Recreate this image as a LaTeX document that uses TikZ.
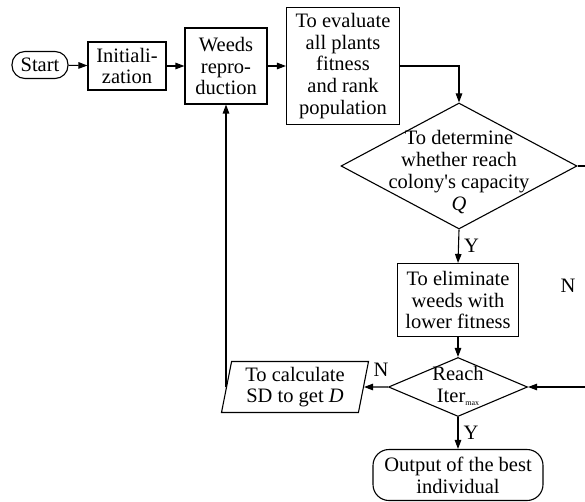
\documentclass[tikz,border=0pt]{standalone}
\usepackage{fontspec}
\setmainfont{Liberation Serif}
\usetikzlibrary{shapes.geometric,arrows.meta}
\begin{document}
\begin{tikzpicture}[x=1pt,y=-1pt,line width=1.1pt,
  every node/.style={font=\fontsize{20.5}{21.8}\selectfont,align=center,inner sep=0pt},
  procbox/.style={draw,rectangle},
  termbox/.style={draw,rectangle,rounded corners=#1},
  decision/.style={draw,diamond},
  iobox/.style={draw,trapezium,trapezium left angle=76,trapezium right angle=104,trapezium stretches body},
  flow/.style={-{Triangle[length=9pt,width=6.5pt]}}]
\useasboundingbox (0,0) rectangle (585,502);
\clip (0,0) rectangle (585,502);
% boxes
\node[termbox=13pt,minimum width=56pt,minimum height=27pt] (start) at (40,65) {Start};
\node[procbox,minimum width=78pt,minimum height=48pt] (init) at (127,66) {Initiali-\\zation};
\node[procbox,minimum width=82pt,minimum height=76pt] (weeds) at (226,66) {Weeds\\repro-\\duction};
\node[procbox,minimum width=113pt,minimum height=117pt] (eval) at (343,66) {To evaluate\\all plants\\fitness\\and rank\\population};
\node[decision,minimum width=236pt,minimum height=126pt] (det) at (459,166) {};
\node (dettext) at (459,172) {To determine\\whether reach\\colony\textquotesingle s capacity\\\textit{Q}};
\node[procbox,minimum width=121pt,minimum height=73pt] (elim) at (458,300) {To eliminate\\weeds with\\lower fitness};
\node[decision,minimum width=139pt,minimum height=59pt] (reach) at (458,387) {};
\node (reachtext) at (458,386) {Reach\\Iter\raisebox{-3pt}{\fontsize{8}{8}\selectfont max}};
\node[iobox,minimum width=147pt,minimum height=51pt] (calc) at (295,387) {To calculate\\SD to get \textit{D}};
\node[termbox=16pt,minimum width=170pt,minimum height=51pt] (out) at (458,475) {Output of the best\\individual};
\coordinate (rgt) at (595,166);
% connectors
\draw[flow] (start) -- (init);
\draw[flow] (init) -- (weeds);
\draw[flow] (weeds) -- (eval);
\draw[flow] (eval.east) -| (det.north);
\draw[flow] (det.south) -- node[right=5pt] {Y} (elim.north);
\draw[flow] (elim.south) -- (reach.north);
\draw[flow] (reach.south) -- node[right=5pt] {Y} (out.north);
\draw[flow] (reach.west) -- (calc.east);
\node (nleft) at (381,370) {N};
\draw[flow] (calc.west) -| (weeds.south);
\draw[flow] (det.east) -- (rgt) |- (reach.east);
\node (nright) at (568,286) {N};
\end{tikzpicture}
\end{document}
